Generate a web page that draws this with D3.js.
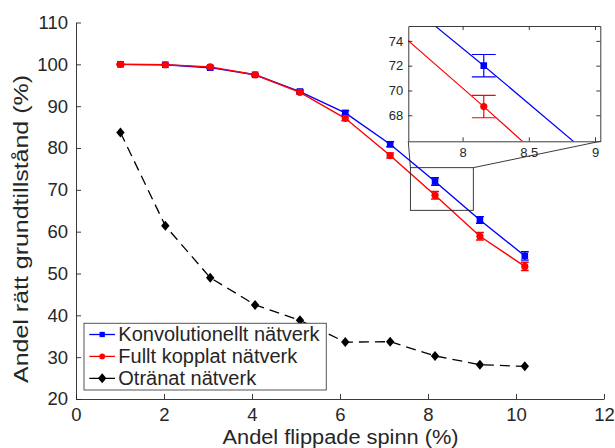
<!DOCTYPE html>
<html>
<head>
<meta charset="utf-8">
<script src="https://cdn.jsdelivr.net/npm/d3@7"></script>
<style>
  body { margin: 0; background: #fff; }
  text { font-family: "Liberation Sans", Arial, Helvetica, sans-serif; fill: #262626; }
</style>
</head>
<body>
<svg id="chart" width="615" height="448"></svg>
<script>
// data
const flipped = [1.01, 2.03, 3.05, 4.07, 5.09, 6.12, 7.14, 8.16, 9.18, 10.2];
const convMean = [100.0, 99.9, 99.2, 97.5, 93.5, 88.4, 80.9, 72.0, 62.8, 54.2];
const convErr = [0.1, 0.1, 0.2, 0.2, 0.3, 0.5, 0.6, 0.9, 0.8, 1.0];
const fullMean = [100.0, 99.9, 99.4, 97.5, 93.3, 87.1, 78.2, 68.7, 58.9, 51.7];
const fullErr = [0.1, 0.1, 0.2, 0.2, 0.4, 0.6, 0.6, 0.9, 0.9, 1.0];
const untrained = [83.7, 61.4, 49.0, 42.5, 38.8, 33.6, 33.7, 30.3, 28.2, 27.8];
const legendLabels = ['Konvolutionellt nätverk', 'Fullt kopplat nätverk', 'Otränat nätverk'];
const xTicks = [0, 2, 4, 6, 8, 10, 12];
const yTicks = [20, 30, 40, 50, 60, 70, 80, 90, 100, 110];
const insetXTicks = [8, 8.5, 9];
const insetYTicks = [68, 70, 72, 74];
const insetXLim = [7.59, 9.04];
const insetYLim = [65.9, 75.2];
const zoomBoxX = [7.6, 9.03];
const zoomBoxY = [65.1, 75.3];

const svg = d3.select('#chart');
const ink = '#262626';

const x = d3.scaleLinear().domain([0, 12]).range([76, 604]);
const y = d3.scaleLinear().domain([20, 110]).range([399, 22.5]);

const series = [
    { mean: convMean, err: convErr, color: '#0000ff', marker: 'square' },
    { mean: fullMean, err: fullErr, color: '#ff0000', marker: 'circle' },
];

function markerPath(type, cx, cy, s) {
    if (type === 'square') {
        const h = 3.3 * s;
        return `M${cx - h},${cy - h}h${2 * h}v${2 * h}h${-2 * h}Z`;
    } else if (type === 'circle') {
        const r = 3.6 * s;
        return `M${cx - r},${cy}a${r},${r} 0 1,0 ${2 * r},0a${r},${r} 0 1,0 ${-2 * r},0Z`;
    } else {
        const w = 4.2 * s, h = 5 * s;
        return `M${cx},${cy - h}L${cx + w},${cy}L${cx},${cy + h}L${cx - w},${cy}Z`;
    }
}

function styleAxis(g) {
    g.attr('font-family', null);
    g.selectAll('path.domain').attr('stroke', ink).attr('stroke-width', 0.9);
    g.selectAll('.tick line').attr('stroke', ink).attr('stroke-width', 0.9);
    g.selectAll('.tick text').attr('fill', ink);
}

// main axes
const gx = svg.append('g')
    .attr('transform', 'translate(0,' + y.range()[0] + ')')
    .call(d3.axisBottom(x).tickValues(xTicks).tickSizeInner(-5).tickSizeOuter(0).tickPadding(9))
    .call(styleAxis);
gx.selectAll('.tick text').attr('font-size', 18.5);

const gy = svg.append('g')
    .attr('transform', 'translate(' + x.range()[0] + ',0)')
    .call(d3.axisLeft(y).tickValues(yTicks).tickSizeInner(-5).tickSizeOuter(0).tickPadding(8))
    .call(styleAxis);
gy.selectAll('.tick text').attr('font-size', 18.5);

// axis labels
svg.append('text')
    .attr('x', 340.5).attr('y', 444)
    .attr('text-anchor', 'middle')
    .attr('font-size', 20)
    .attr('textLength', 236).attr('lengthAdjust', 'spacingAndGlyphs')
    .text('Andel flippade spinn (%)');

svg.append('text')
    .attr('transform', 'translate(28,229) rotate(-90)')
    .attr('text-anchor', 'middle')
    .attr('font-size', 21)
    .attr('textLength', 308).attr('lengthAdjust', 'spacingAndGlyphs')
    .text('Andel rätt grundtillstånd (%)');

// draw a trained-network series (line, error bars, markers) with given scales
function drawSeries(g, s, sx, sy, lw, capHalf) {
    const line = d3.line().x((d, i) => sx(flipped[i])).y(d => sy(d));
    g.append('path')
        .attr('d', line(s.mean))
        .attr('fill', 'none')
        .attr('stroke', s.color)
        .attr('stroke-width', lw);
    const eb = g.append('g').attr('stroke', s.color).attr('stroke-width', lw).attr('fill', 'none');
    s.mean.forEach((m, i) => {
        const f = flipped[i], e = s.err[i];
        eb.append('path').attr('d',
            `M${sx(f)},${sy(m - e)}V${sy(m + e)}` +
            `M${sx(f - capHalf)},${sy(m + e)}H${sx(f + capHalf)}` +
            `M${sx(f - capHalf)},${sy(m - e)}H${sx(f + capHalf)}`);
    });
    g.append('g').selectAll('path')
        .data(s.mean)
        .join('path')
        .attr('d', (d, i) => markerPath(s.marker, sx(flipped[i]), sy(d), 1))
        .attr('fill', s.color);
}

const main = svg.append('g');
series.forEach(s => drawSeries(main, s, x, y, 1.4, 0.09));

// untrained network, dashed
main.append('path')
    .attr('d', d3.line().x((d, i) => x(flipped[i])).y(d => y(d))(untrained))
    .attr('fill', 'none')
    .attr('stroke', '#000')
    .attr('stroke-width', 1.3)
    .attr('stroke-dasharray', '10,6');
main.append('g').selectAll('path')
    .data(untrained)
    .join('path')
    .attr('d', (d, i) => markerPath('diamond', x(flipped[i]), y(d), 1))
    .attr('fill', '#000');

// zoom box and connectors
const ix = d3.scaleLinear().domain(insetXLim).range([408.3, 600.3]);
const iy = d3.scaleLinear().domain(insetYLim).range([141.3, 26]);

svg.append('rect')
    .attr('x', x(zoomBoxX[0])).attr('y', y(zoomBoxY[1]))
    .attr('width', x(zoomBoxX[1]) - x(zoomBoxX[0]))
    .attr('height', y(zoomBoxY[0]) - y(zoomBoxY[1]))
    .attr('fill', 'none').attr('stroke', ink).attr('stroke-width', 0.9);
svg.append('line')
    .attr('x1', x(zoomBoxX[0])).attr('y1', y(zoomBoxY[1]))
    .attr('x2', ix.range()[0]).attr('y2', iy.range()[0])
    .attr('stroke', ink).attr('stroke-width', 0.9);
svg.append('line')
    .attr('x1', x(zoomBoxX[1])).attr('y1', y(zoomBoxY[1]))
    .attr('x2', ix.range()[1]).attr('y2', iy.range()[0])
    .attr('stroke', ink).attr('stroke-width', 0.9);

// inset
const inset = svg.append('g');
inset.append('rect')
    .attr('x', ix.range()[0]).attr('y', iy.range()[1])
    .attr('width', ix.range()[1] - ix.range()[0])
    .attr('height', iy.range()[0] - iy.range()[1])
    .attr('fill', '#fff');
svg.append('clipPath').attr('id', 'insetClip')
    .append('rect')
    .attr('x', ix.range()[0]).attr('y', iy.range()[1])
    .attr('width', ix.range()[1] - ix.range()[0])
    .attr('height', iy.range()[0] - iy.range()[1]);
const insetPlot = inset.append('g').attr('clip-path', 'url(#insetClip)');
series.forEach(s => drawSeries(insetPlot, s, ix, iy, 1.2, 0.09));

const ib = inset.append('g')
    .attr('transform', 'translate(0,' + iy.range()[0] + ')')
    .call(d3.axisBottom(ix).tickValues(insetXTicks).tickFormat(d3.format('')).tickSizeInner(-4).tickSizeOuter(0).tickPadding(6))
    .call(styleAxis);
ib.selectAll('.tick text').attr('font-size', 13);
const il = inset.append('g')
    .attr('transform', 'translate(' + ix.range()[0] + ',0)')
    .call(d3.axisLeft(iy).tickValues(insetYTicks).tickSizeInner(-4).tickSizeOuter(0).tickPadding(5))
    .call(styleAxis);
il.selectAll('.tick text').attr('font-size', 13);
inset.append('g')
    .attr('transform', 'translate(0,' + iy.range()[1] + ')')
    .call(d3.axisTop(ix).tickValues(insetXTicks).tickFormat('').tickSizeInner(-4).tickSizeOuter(0))
    .call(styleAxis);
inset.append('g')
    .attr('transform', 'translate(' + ix.range()[1] + ',0)')
    .call(d3.axisRight(iy).tickValues(insetYTicks).tickFormat('').tickSizeInner(-4).tickSizeOuter(0))
    .call(styleAxis);

// legend
const legend = svg.append('g');
legend.append('rect')
    .attr('x', 84).attr('y', 323.3)
    .attr('width', 242.3).attr('height', 66.7)
    .attr('fill', '#fff')
    .attr('stroke', '#555').attr('stroke-width', 1);
const legendItems = [
    { color: '#0000ff', marker: 'square', dash: null },
    { color: '#ff0000', marker: 'circle', dash: null },
    { color: '#000', marker: 'diamond', dash: '10,6' },
];
legendItems.forEach((it, i) => {
    const base = 341.3 + i * 21.9;
    const cy = base - 6.8;
    legend.append('line')
        .attr('x1', 89.3).attr('x2', 115)
        .attr('y1', cy).attr('y2', cy)
        .attr('stroke', it.color).attr('stroke-width', 1.3)
        .attr('stroke-dasharray', it.dash);
    legend.append('path')
        .attr('d', markerPath(it.marker, 102.2, cy, it.marker === 'diamond' ? 1 : 0.8))
        .attr('fill', it.color);
    legend.append('text')
        .attr('x', 118.3).attr('y', base)
        .attr('font-size', 20)
        .text(legendLabels[i]);
});
</script>
</body>
</html>
